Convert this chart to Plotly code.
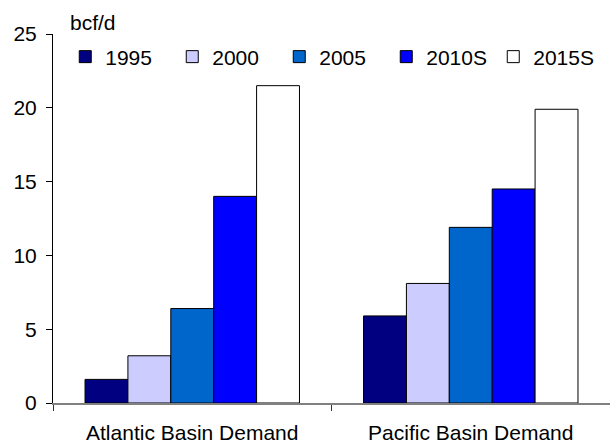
import plotly.graph_objects as go

# Gas demand by basin, bcf/d
regions = ["Atlantic Basin Demand", "Pacific Basin Demand"]
years = ["1995", "2000", "2005", "2010S", "2015S"]
demand_1995 = [1.6, 5.9]
demand_2000 = [3.2, 8.1]
demand_2005 = [6.4, 11.9]
demand_2010s = [14.0, 14.5]
demand_2015s = [21.5, 19.9]
y_ticks = [0, 5, 10, 15, 20, 25]

series = [demand_1995, demand_2000, demand_2005, demand_2010s, demand_2015s]
colors = ["#000080", "#CCCCFF", "#0066CC", "#0000FF", "#FFFFFF"]

FONT = "Liberation Sans, Arial, sans-serif"
FS = 21

fig = go.Figure()
for name, vals, col in zip(years, series, colors):
    fig.add_trace(go.Bar(
        x=regions, y=vals, name=name,
        marker=dict(color=col, line=dict(color="#000000", width=1)),
    ))

fig.update_layout(
    width=610, height=444,
    margin=dict(l=53, r=0, t=34, b=41),
    paper_bgcolor="white", plot_bgcolor="white",
    barmode="group", bargap=0.23, bargroupgap=0,
    font=dict(family=FONT, size=FS, color="#000000"),
    showlegend=True,
    legend=dict(
        orientation="h", x=0.022, y=0.9377, xanchor="left", yanchor="middle",
        bgcolor="rgba(0,0,0,0)", font=dict(family=FONT, size=FS),
        entrywidth=62, entrywidthmode="pixels", traceorder="normal",
    ),
    xaxis=dict(
        showline=True, linecolor="#808080", linewidth=1.5,
        ticks="outside", tickson="boundaries", ticklen=6, tickcolor="#333333",
        showgrid=False, tickfont=dict(family=FONT, size=FS),
        ticklabelstandoff=10,
    ),
    yaxis=dict(
        range=[0, 25], tickvals=y_ticks,
        showline=True, linecolor="#000000", linewidth=1,
        ticks="outside", ticklen=6, tickcolor="#000000",
        showgrid=False, zeroline=False,
        tickfont=dict(family=FONT, size=FS),
        ticklabelstandoff=5,
    ),
    annotations=[dict(
        text="bcf/d", xref="paper", yref="paper", x=0.027, y=1.0,
        yshift=12, xanchor="left", yanchor="middle", showarrow=False,
        font=dict(family=FONT, size=FS),
    )],
)

fig.write_html("out.html")
